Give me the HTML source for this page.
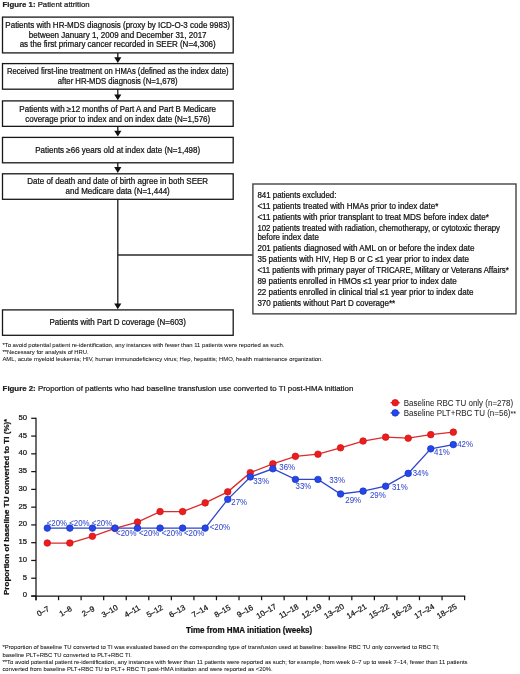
<!DOCTYPE html>
<html><head><meta charset="utf-8"><style>
html,body{margin:0;padding:0;background:#fff;}
body{width:520px;height:674px;overflow:hidden;}
svg{display:block;filter:blur(0.3px);font-family:"Liberation Sans",sans-serif;}
text{stroke-width:0.22;}
.ns{stroke-width:0.05;}
</style></head><body>
<svg width="520" height="674" viewBox="0 0 520 674" font-family="Liberation Sans">
<text x="2.6" y="7.2" font-size="7.8" fill="#1a1a1a" stroke="#1a1a1a" transform="matrix(1 0 0 1.03 0 -0.216)"><tspan font-weight="bold">Figure 1:</tspan> Patient attrition</text>
<rect x="2.5" y="17.1" width="230.70" height="35.80" fill="none" stroke="#181818" stroke-width="1.3"/>
<text x="117.7" y="28" font-size="8" text-anchor="middle" fill="#111" stroke="#111" transform="matrix(1 0 0 1.03 0 -0.840)">Patients with HR-MDS diagnosis (proxy by ICD-O-3 code 9983)</text>
<text x="117.7" y="38" font-size="8" text-anchor="middle" fill="#111" stroke="#111" transform="matrix(1 0 0 1.03 0 -1.140)">between January 1, 2009 and December 31, 2017</text>
<text x="117.7" y="47" font-size="8" text-anchor="middle" fill="#111" stroke="#111" transform="matrix(1 0 0 1.03 0 -1.410)">as the first primary cancer recorded in SEER (N=4,306)</text>
<rect x="2.5" y="63.6" width="230.70" height="25.60" fill="none" stroke="#181818" stroke-width="1.3"/>
<text x="117.7" y="74" font-size="8" text-anchor="middle" fill="#111" stroke="#111" transform="matrix(1 0 0 1.03 0 -2.220)" textLength="221.5" lengthAdjust="spacingAndGlyphs">Received first-line treatment on HMAs (defined as the index date)</text>
<text x="117.7" y="84" font-size="8" text-anchor="middle" fill="#111" stroke="#111" transform="matrix(1 0 0 1.03 0 -2.520)" textLength="119.8" lengthAdjust="spacingAndGlyphs">after HR-MDS diagnosis (N=1,678)</text>
<rect x="2.5" y="100.9" width="230.70" height="25.45" fill="none" stroke="#181818" stroke-width="1.3"/>
<text x="117.7" y="112" font-size="8" text-anchor="middle" fill="#111" stroke="#111" transform="matrix(1 0 0 1.03 0 -3.360)">Patients with ≥12 months of Part A and Part B Medicare</text>
<text x="117.7" y="122" font-size="8" text-anchor="middle" fill="#111" stroke="#111" transform="matrix(1 0 0 1.03 0 -3.660)">coverage prior to index and on index date (N=1,576)</text>
<rect x="2.5" y="137.4" width="230.70" height="25.40" fill="none" stroke="#181818" stroke-width="1.3"/>
<text x="117.7" y="153" font-size="8" text-anchor="middle" fill="#111" stroke="#111" transform="matrix(1 0 0 1.03 0 -4.590)">Patients ≥66 years old at index date (N=1,498)</text>
<rect x="2.5" y="173.8" width="230.70" height="25.50" fill="none" stroke="#181818" stroke-width="1.3"/>
<text x="117.7" y="184" font-size="8" text-anchor="middle" fill="#111" stroke="#111" transform="matrix(1 0 0 1.03 0 -5.520)">Date of death and date of birth agree in both SEER</text>
<text x="117.7" y="194" font-size="8" text-anchor="middle" fill="#111" stroke="#111" transform="matrix(1 0 0 1.03 0 -5.820)">and Medicare data (N=1,444)</text>
<rect x="2.5" y="309.9" width="230.70" height="25.40" fill="none" stroke="#181818" stroke-width="1.3"/>
<text x="117.7" y="325" font-size="8" text-anchor="middle" fill="#111" stroke="#111" transform="matrix(1 0 0 1.03 0 -9.750)">Patients with Part D coverage (N=603)</text>
<line x1="117.8" y1="52.9" x2="117.8" y2="58.0" stroke="#181818" stroke-width="1.3"/>
<path d="M114.2,57.2 L121.39999999999999,57.2 L117.8,63.0 Z" fill="#111"/>
<line x1="117.8" y1="89.2" x2="117.8" y2="95.2" stroke="#181818" stroke-width="1.3"/>
<path d="M114.2,94.4 L121.39999999999999,94.4 L117.8,100.2 Z" fill="#111"/>
<line x1="117.8" y1="126.3" x2="117.8" y2="131.6" stroke="#181818" stroke-width="1.3"/>
<path d="M114.2,130.79999999999998 L121.39999999999999,130.79999999999998 L117.8,136.6 Z" fill="#111"/>
<line x1="117.8" y1="162.8" x2="117.8" y2="167.9" stroke="#181818" stroke-width="1.3"/>
<path d="M114.2,167.1 L121.39999999999999,167.1 L117.8,172.9 Z" fill="#111"/>
<line x1="117.8" y1="199.0" x2="117.8" y2="304.2" stroke="#181818" stroke-width="1.3"/>
<path d="M114.2,303.4 L121.39999999999999,303.4 L117.8,309.2 Z" fill="#111"/>
<line x1="117.8" y1="255.0" x2="253" y2="255.0" stroke="#2a2a2a" stroke-width="1.4"/>
<rect x="252.9" y="184.0" width="263.1" height="129.85" fill="none" stroke="#4a4a4a" stroke-width="1.45"/>
<text x="257.4" y="198" font-size="8" text-anchor="start" fill="#111" stroke="#111" transform="matrix(1 0 0 1.03 0 -5.940)" textLength="79.0" lengthAdjust="spacingAndGlyphs">841 patients excluded:</text>
<text x="257.4" y="209" font-size="8" text-anchor="start" fill="#111" stroke="#111" transform="matrix(1 0 0 1.03 0 -6.270)" textLength="180.9" lengthAdjust="spacingAndGlyphs">&lt;11 patients treated with HMAs prior to index date*</text>
<text x="257.4" y="220" font-size="8" text-anchor="start" fill="#111" stroke="#111" transform="matrix(1 0 0 1.03 0 -6.600)" textLength="231.6" lengthAdjust="spacingAndGlyphs">&lt;11 patients with prior transplant to treat MDS before index date*</text>
<text x="257.4" y="231" font-size="8" text-anchor="start" fill="#111" stroke="#111" transform="matrix(1 0 0 1.03 0 -6.930)" textLength="242.6" lengthAdjust="spacingAndGlyphs">102 patients treated with radiation, chemotherapy, or cytotoxic therapy</text>
<text x="257.4" y="240" font-size="8" text-anchor="start" fill="#111" stroke="#111" transform="matrix(1 0 0 1.03 0 -7.200)" textLength="61.5" lengthAdjust="spacingAndGlyphs">before index date</text>
<text x="257.4" y="251" font-size="8" text-anchor="start" fill="#111" stroke="#111" transform="matrix(1 0 0 1.03 0 -7.530)" textLength="217.0" lengthAdjust="spacingAndGlyphs">201 patients diagnosed with AML on or before the index date</text>
<text x="257.4" y="262" font-size="8" text-anchor="start" fill="#111" stroke="#111" transform="matrix(1 0 0 1.03 0 -7.860)" textLength="211.5" lengthAdjust="spacingAndGlyphs">35 patients with HIV, Hep B or C ≤1 year prior to index date</text>
<text x="257.4" y="273" font-size="8" text-anchor="start" fill="#111" stroke="#111" transform="matrix(1 0 0 1.03 0 -8.190)" textLength="251.3" lengthAdjust="spacingAndGlyphs">&lt;11 patients with primary payer of TRICARE, Military or Veterans Affairs*</text>
<text x="257.4" y="284" font-size="8" text-anchor="start" fill="#111" stroke="#111" transform="matrix(1 0 0 1.03 0 -8.520)" textLength="199.3" lengthAdjust="spacingAndGlyphs">89 patients enrolled in HMOs ≤1 year prior to index date</text>
<text x="257.4" y="295" font-size="8" text-anchor="start" fill="#111" stroke="#111" transform="matrix(1 0 0 1.03 0 -8.850)" textLength="216.1" lengthAdjust="spacingAndGlyphs">22 patients enrolled in clinical trial ≤1 year prior to index date</text>
<text x="257.4" y="306" font-size="8" text-anchor="start" fill="#111" stroke="#111" transform="matrix(1 0 0 1.03 0 -9.180)" textLength="137.8" lengthAdjust="spacingAndGlyphs">370 patients without Part D coverage**</text>
<text x="2.4" y="346.8" font-size="5.9" text-anchor="start" fill="#111" stroke="#111" class="ns" transform="matrix(1 0 0 1.01 0 -3.468)" textLength="282.1" lengthAdjust="spacingAndGlyphs">*To avoid potential patient re-identification, any instances with fewer than 11 patients were reported as such.</text>
<text x="2.4" y="353.7" font-size="5.9" text-anchor="start" fill="#111" stroke="#111" class="ns" transform="matrix(1 0 0 1.01 0 -3.537)" textLength="86.3" lengthAdjust="spacingAndGlyphs">**Necessary for analysis of HRU.</text>
<text x="2.4" y="360.6" font-size="5.9" text-anchor="start" fill="#111" stroke="#111" class="ns" transform="matrix(1 0 0 1.01 0 -3.606)" textLength="320.6" lengthAdjust="spacingAndGlyphs">AML, acute myeloid leukemia; HIV, human immunodeficiency virus; Hep, hepatitis; HMO, health maintenance organization.</text>
<text x="2.6" y="391" font-size="7.86" fill="#1a1a1a" stroke="#1a1a1a" transform="matrix(1 0 0 1.03 0 -11.730)"><tspan font-weight="bold">Figure 2:</tspan> Proportion of patients who had baseline transfusion use converted to TI post-HMA initiation</text>
<line x1="36.0" y1="417.7" x2="36.0" y2="600.2" stroke="#151515" stroke-width="1.25"/>
<line x1="31.2" y1="596.00" x2="36.0" y2="596.00" stroke="#151515" stroke-width="1.25"/>
<text x="27.0" y="597.5" font-size="7.7" text-anchor="end" fill="#111" stroke="#111" transform="matrix(1 0 0 1.03 0 -17.925)">0</text>
<line x1="31.2" y1="578.23" x2="36.0" y2="578.23" stroke="#151515" stroke-width="1.25"/>
<text x="27.0" y="579.73" font-size="7.7" text-anchor="end" fill="#111" stroke="#111" transform="matrix(1 0 0 1.03 0 -17.392)">5</text>
<line x1="31.2" y1="560.46" x2="36.0" y2="560.46" stroke="#151515" stroke-width="1.25"/>
<text x="27.0" y="561.96" font-size="7.7" text-anchor="end" fill="#111" stroke="#111" transform="matrix(1 0 0 1.03 0 -16.859)">10</text>
<line x1="31.2" y1="542.69" x2="36.0" y2="542.69" stroke="#151515" stroke-width="1.25"/>
<text x="27.0" y="544.19" font-size="7.7" text-anchor="end" fill="#111" stroke="#111" transform="matrix(1 0 0 1.03 0 -16.326)">15</text>
<line x1="31.2" y1="524.92" x2="36.0" y2="524.92" stroke="#151515" stroke-width="1.25"/>
<text x="27.0" y="526.42" font-size="7.7" text-anchor="end" fill="#111" stroke="#111" transform="matrix(1 0 0 1.03 0 -15.793)">20</text>
<line x1="31.2" y1="507.15" x2="36.0" y2="507.15" stroke="#151515" stroke-width="1.25"/>
<text x="27.0" y="508.65" font-size="7.7" text-anchor="end" fill="#111" stroke="#111" transform="matrix(1 0 0 1.03 0 -15.260)">25</text>
<line x1="31.2" y1="489.38" x2="36.0" y2="489.38" stroke="#151515" stroke-width="1.25"/>
<text x="27.0" y="490.88" font-size="7.7" text-anchor="end" fill="#111" stroke="#111" transform="matrix(1 0 0 1.03 0 -14.726)">30</text>
<line x1="31.2" y1="471.61" x2="36.0" y2="471.61" stroke="#151515" stroke-width="1.25"/>
<text x="27.0" y="473.11" font-size="7.7" text-anchor="end" fill="#111" stroke="#111" transform="matrix(1 0 0 1.03 0 -14.193)">35</text>
<line x1="31.2" y1="453.84" x2="36.0" y2="453.84" stroke="#151515" stroke-width="1.25"/>
<text x="27.0" y="455.34" font-size="7.7" text-anchor="end" fill="#111" stroke="#111" transform="matrix(1 0 0 1.03 0 -13.660)">40</text>
<line x1="31.2" y1="436.07" x2="36.0" y2="436.07" stroke="#151515" stroke-width="1.25"/>
<text x="27.0" y="437.57" font-size="7.7" text-anchor="end" fill="#111" stroke="#111" transform="matrix(1 0 0 1.03 0 -13.127)">45</text>
<line x1="31.2" y1="418.30" x2="36.0" y2="418.30" stroke="#151515" stroke-width="1.25"/>
<text x="27.0" y="419.8" font-size="7.7" text-anchor="end" fill="#111" stroke="#111" transform="matrix(1 0 0 1.03 0 -12.594)">50</text>
<line x1="31.2" y1="596.0" x2="465.20000000000005" y2="596.0" stroke="#151515" stroke-width="1.25"/>
<line x1="36.00" y1="596.0" x2="36.00" y2="600.2" stroke="#151515" stroke-width="1.25"/>
<line x1="58.56" y1="596.0" x2="58.56" y2="600.2" stroke="#151515" stroke-width="1.25"/>
<line x1="81.12" y1="596.0" x2="81.12" y2="600.2" stroke="#151515" stroke-width="1.25"/>
<line x1="103.67" y1="596.0" x2="103.67" y2="600.2" stroke="#151515" stroke-width="1.25"/>
<line x1="126.23" y1="596.0" x2="126.23" y2="600.2" stroke="#151515" stroke-width="1.25"/>
<line x1="148.79" y1="596.0" x2="148.79" y2="600.2" stroke="#151515" stroke-width="1.25"/>
<line x1="171.35" y1="596.0" x2="171.35" y2="600.2" stroke="#151515" stroke-width="1.25"/>
<line x1="193.91" y1="596.0" x2="193.91" y2="600.2" stroke="#151515" stroke-width="1.25"/>
<line x1="216.46" y1="596.0" x2="216.46" y2="600.2" stroke="#151515" stroke-width="1.25"/>
<line x1="239.02" y1="596.0" x2="239.02" y2="600.2" stroke="#151515" stroke-width="1.25"/>
<line x1="261.58" y1="596.0" x2="261.58" y2="600.2" stroke="#151515" stroke-width="1.25"/>
<line x1="284.14" y1="596.0" x2="284.14" y2="600.2" stroke="#151515" stroke-width="1.25"/>
<line x1="306.69" y1="596.0" x2="306.69" y2="600.2" stroke="#151515" stroke-width="1.25"/>
<line x1="329.25" y1="596.0" x2="329.25" y2="600.2" stroke="#151515" stroke-width="1.25"/>
<line x1="351.81" y1="596.0" x2="351.81" y2="600.2" stroke="#151515" stroke-width="1.25"/>
<line x1="374.37" y1="596.0" x2="374.37" y2="600.2" stroke="#151515" stroke-width="1.25"/>
<line x1="396.93" y1="596.0" x2="396.93" y2="600.2" stroke="#151515" stroke-width="1.25"/>
<line x1="419.48" y1="596.0" x2="419.48" y2="600.2" stroke="#151515" stroke-width="1.25"/>
<line x1="442.04" y1="596.0" x2="442.04" y2="600.2" stroke="#151515" stroke-width="1.25"/>
<line x1="464.60" y1="596.0" x2="464.60" y2="600.2" stroke="#151515" stroke-width="1.25"/>
<text x="0" y="2.81" font-size="7.8" text-anchor="middle" fill="#111" stroke="#111" transform="translate(42.98 611.1) rotate(-30)">0–7</text>
<text x="0" y="2.81" font-size="7.8" text-anchor="middle" fill="#111" stroke="#111" transform="translate(65.54 611.1) rotate(-30)">1–8</text>
<text x="0" y="2.81" font-size="7.8" text-anchor="middle" fill="#111" stroke="#111" transform="translate(88.09 611.1) rotate(-30)">2–9</text>
<text x="0" y="2.81" font-size="7.8" text-anchor="middle" fill="#111" stroke="#111" transform="translate(109.5 611.1) rotate(-30)">3–10</text>
<text x="0" y="2.81" font-size="7.8" text-anchor="middle" fill="#111" stroke="#111" transform="translate(132.06 611.1) rotate(-30)">4–11</text>
<text x="0" y="2.81" font-size="7.8" text-anchor="middle" fill="#111" stroke="#111" transform="translate(154.62 611.1) rotate(-30)">5–12</text>
<text x="0" y="2.81" font-size="7.8" text-anchor="middle" fill="#111" stroke="#111" transform="translate(177.18 611.1) rotate(-30)">6–13</text>
<text x="0" y="2.81" font-size="7.8" text-anchor="middle" fill="#111" stroke="#111" transform="translate(199.73 611.1) rotate(-30)">7–14</text>
<text x="0" y="2.81" font-size="7.8" text-anchor="middle" fill="#111" stroke="#111" transform="translate(222.29 611.1) rotate(-30)">8–15</text>
<text x="0" y="2.81" font-size="7.8" text-anchor="middle" fill="#111" stroke="#111" transform="translate(244.85 611.1) rotate(-30)">9–16</text>
<text x="0" y="2.81" font-size="7.8" text-anchor="middle" fill="#111" stroke="#111" transform="translate(266.26 611.1) rotate(-30)">10–17</text>
<text x="0" y="2.81" font-size="7.8" text-anchor="middle" fill="#111" stroke="#111" transform="translate(288.82 611.1) rotate(-30)">11–18</text>
<text x="0" y="2.81" font-size="7.8" text-anchor="middle" fill="#111" stroke="#111" transform="translate(311.37 611.1) rotate(-30)">12–19</text>
<text x="0" y="2.81" font-size="7.8" text-anchor="middle" fill="#111" stroke="#111" transform="translate(333.93 611.1) rotate(-30)">13–20</text>
<text x="0" y="2.81" font-size="7.8" text-anchor="middle" fill="#111" stroke="#111" transform="translate(356.49 611.1) rotate(-30)">14–21</text>
<text x="0" y="2.81" font-size="7.8" text-anchor="middle" fill="#111" stroke="#111" transform="translate(379.05 611.1) rotate(-30)">15–22</text>
<text x="0" y="2.81" font-size="7.8" text-anchor="middle" fill="#111" stroke="#111" transform="translate(401.61 611.1) rotate(-30)">16–23</text>
<text x="0" y="2.81" font-size="7.8" text-anchor="middle" fill="#111" stroke="#111" transform="translate(424.16 611.1) rotate(-30)">17–24</text>
<text x="0" y="2.81" font-size="7.8" text-anchor="middle" fill="#111" stroke="#111" transform="translate(446.72 611.1) rotate(-30)">18–25</text>
<text x="249.1" y="632.8" font-size="8.05" text-anchor="middle" font-weight="bold" fill="#111" stroke="#111" transform="matrix(1 0 0 1.03 0 -18.984)">Time from HMA initiation (weeks)</text>
<text x="9.3" y="595" font-size="8" font-weight="bold" fill="#111" stroke="#111" textLength="176" lengthAdjust="spacing" transform="rotate(-90 9.3 595)">Proportion of baseline TU converted to TI (%)<tspan font-size="7">*</tspan></text>
<polyline points="47.28,543.05 69.84,543.05 92.39,536.29 114.95,528.47 137.51,522.08 160.07,511.59 182.63,511.59 205.18,502.89 227.74,491.87 250.30,472.68 272.86,463.79 295.42,456.33 317.97,454.20 340.53,447.80 363.09,441.05 385.65,437.14 408.21,438.20 430.76,434.65 453.32,432.16" fill="none" stroke="#dd2a2a" stroke-width="1.3"/>
<circle cx="47.28" cy="543.05" r="3.3" fill="#ee1c1c" stroke="#c8161a" stroke-width="0.7"/>
<circle cx="69.84" cy="543.05" r="3.3" fill="#ee1c1c" stroke="#c8161a" stroke-width="0.7"/>
<circle cx="92.39" cy="536.29" r="3.3" fill="#ee1c1c" stroke="#c8161a" stroke-width="0.7"/>
<circle cx="114.95" cy="528.47" r="3.3" fill="#ee1c1c" stroke="#c8161a" stroke-width="0.7"/>
<circle cx="137.51" cy="522.08" r="3.3" fill="#ee1c1c" stroke="#c8161a" stroke-width="0.7"/>
<circle cx="160.07" cy="511.59" r="3.3" fill="#ee1c1c" stroke="#c8161a" stroke-width="0.7"/>
<circle cx="182.63" cy="511.59" r="3.3" fill="#ee1c1c" stroke="#c8161a" stroke-width="0.7"/>
<circle cx="205.18" cy="502.89" r="3.3" fill="#ee1c1c" stroke="#c8161a" stroke-width="0.7"/>
<circle cx="227.74" cy="491.87" r="3.3" fill="#ee1c1c" stroke="#c8161a" stroke-width="0.7"/>
<circle cx="250.30" cy="472.68" r="3.3" fill="#ee1c1c" stroke="#c8161a" stroke-width="0.7"/>
<circle cx="272.86" cy="463.79" r="3.3" fill="#ee1c1c" stroke="#c8161a" stroke-width="0.7"/>
<circle cx="295.42" cy="456.33" r="3.3" fill="#ee1c1c" stroke="#c8161a" stroke-width="0.7"/>
<circle cx="317.97" cy="454.20" r="3.3" fill="#ee1c1c" stroke="#c8161a" stroke-width="0.7"/>
<circle cx="340.53" cy="447.80" r="3.3" fill="#ee1c1c" stroke="#c8161a" stroke-width="0.7"/>
<circle cx="363.09" cy="441.05" r="3.3" fill="#ee1c1c" stroke="#c8161a" stroke-width="0.7"/>
<circle cx="385.65" cy="437.14" r="3.3" fill="#ee1c1c" stroke="#c8161a" stroke-width="0.7"/>
<circle cx="408.21" cy="438.20" r="3.3" fill="#ee1c1c" stroke="#c8161a" stroke-width="0.7"/>
<circle cx="430.76" cy="434.65" r="3.3" fill="#ee1c1c" stroke="#c8161a" stroke-width="0.7"/>
<circle cx="453.32" cy="432.16" r="3.3" fill="#ee1c1c" stroke="#c8161a" stroke-width="0.7"/>
<polyline points="47.28,528.12 69.84,528.12 92.39,528.12 114.95,528.12 137.51,528.12 160.07,528.12 182.63,528.12 205.18,528.12 227.74,499.33 250.30,476.94 272.86,468.77 295.42,479.43 317.97,479.43 340.53,494.00 363.09,491.16 385.65,486.18 408.21,473.39 430.76,448.86 453.32,444.60" fill="none" stroke="#2f45cc" stroke-width="1.3"/>
<circle cx="47.28" cy="528.12" r="3.3" fill="#2346ee" stroke="#1d35b8" stroke-width="0.7"/>
<circle cx="69.84" cy="528.12" r="3.3" fill="#2346ee" stroke="#1d35b8" stroke-width="0.7"/>
<circle cx="92.39" cy="528.12" r="3.3" fill="#2346ee" stroke="#1d35b8" stroke-width="0.7"/>
<circle cx="114.95" cy="528.12" r="3.3" fill="#2346ee" stroke="#1d35b8" stroke-width="0.7"/>
<circle cx="137.51" cy="528.12" r="3.3" fill="#2346ee" stroke="#1d35b8" stroke-width="0.7"/>
<circle cx="160.07" cy="528.12" r="3.3" fill="#2346ee" stroke="#1d35b8" stroke-width="0.7"/>
<circle cx="182.63" cy="528.12" r="3.3" fill="#2346ee" stroke="#1d35b8" stroke-width="0.7"/>
<circle cx="205.18" cy="528.12" r="3.3" fill="#2346ee" stroke="#1d35b8" stroke-width="0.7"/>
<circle cx="227.74" cy="499.33" r="3.3" fill="#2346ee" stroke="#1d35b8" stroke-width="0.7"/>
<circle cx="250.30" cy="476.94" r="3.3" fill="#2346ee" stroke="#1d35b8" stroke-width="0.7"/>
<circle cx="272.86" cy="468.77" r="3.3" fill="#2346ee" stroke="#1d35b8" stroke-width="0.7"/>
<circle cx="295.42" cy="479.43" r="3.3" fill="#2346ee" stroke="#1d35b8" stroke-width="0.7"/>
<circle cx="317.97" cy="479.43" r="3.3" fill="#2346ee" stroke="#1d35b8" stroke-width="0.7"/>
<circle cx="340.53" cy="494.00" r="3.3" fill="#2346ee" stroke="#1d35b8" stroke-width="0.7"/>
<circle cx="363.09" cy="491.16" r="3.3" fill="#2346ee" stroke="#1d35b8" stroke-width="0.7"/>
<circle cx="385.65" cy="486.18" r="3.3" fill="#2346ee" stroke="#1d35b8" stroke-width="0.7"/>
<circle cx="408.21" cy="473.39" r="3.3" fill="#2346ee" stroke="#1d35b8" stroke-width="0.7"/>
<circle cx="430.76" cy="448.86" r="3.3" fill="#2346ee" stroke="#1d35b8" stroke-width="0.7"/>
<circle cx="453.32" cy="444.60" r="3.3" fill="#2346ee" stroke="#1d35b8" stroke-width="0.7"/>
<text x="46.68" y="525.52" font-size="7.9" text-anchor="start" fill="#3348cc" stroke="#3348cc" class="ns" transform="matrix(1 0 0 1.03 0 -15.766)">&lt;20%</text>
<text x="69.24" y="525.52" font-size="7.9" text-anchor="start" fill="#3348cc" stroke="#3348cc" class="ns" transform="matrix(1 0 0 1.03 0 -15.766)">&lt;20%</text>
<text x="91.79" y="525.52" font-size="7.9" text-anchor="start" fill="#3348cc" stroke="#3348cc" class="ns" transform="matrix(1 0 0 1.03 0 -15.766)">&lt;20%</text>
<text x="116.05" y="536.12" font-size="7.9" text-anchor="start" fill="#3348cc" stroke="#3348cc" class="ns" transform="matrix(1 0 0 1.03 0 -16.084)">&lt;20%</text>
<text x="138.91" y="535.72" font-size="7.9" text-anchor="start" fill="#3348cc" stroke="#3348cc" class="ns" transform="matrix(1 0 0 1.03 0 -16.072)">&lt;20%</text>
<text x="161.77" y="535.82" font-size="7.9" text-anchor="start" fill="#3348cc" stroke="#3348cc" class="ns" transform="matrix(1 0 0 1.03 0 -16.075)">&lt;20%</text>
<text x="183.93" y="535.82" font-size="7.9" text-anchor="start" fill="#3348cc" stroke="#3348cc" class="ns" transform="matrix(1 0 0 1.03 0 -16.075)">&lt;20%</text>
<text x="209.68" y="530.42" font-size="7.9" text-anchor="start" fill="#3348cc" stroke="#3348cc" class="ns" transform="matrix(1 0 0 1.03 0 -15.913)">&lt;20%</text>
<text x="231.34" y="505.43" font-size="7.9" text-anchor="start" fill="#3348cc" stroke="#3348cc" class="ns" transform="matrix(1 0 0 1.03 0 -15.163)">27%</text>
<text x="253.2" y="483.64" font-size="7.9" text-anchor="start" fill="#3348cc" stroke="#3348cc" class="ns" transform="matrix(1 0 0 1.03 0 -14.509)">33%</text>
<text x="279.26" y="469.97" font-size="7.9" text-anchor="start" fill="#3348cc" stroke="#3348cc" class="ns" transform="matrix(1 0 0 1.03 0 -14.099)">36%</text>
<text x="295.52" y="488.83" font-size="7.9" text-anchor="start" fill="#3348cc" stroke="#3348cc" class="ns" transform="matrix(1 0 0 1.03 0 -14.665)">33%</text>
<text x="329.17" y="483.43" font-size="7.9" text-anchor="start" fill="#3348cc" stroke="#3348cc" class="ns" transform="matrix(1 0 0 1.03 0 -14.503)">33%</text>
<text x="345.33" y="502.6" font-size="7.9" text-anchor="start" fill="#3348cc" stroke="#3348cc" class="ns" transform="matrix(1 0 0 1.03 0 -15.078)">29%</text>
<text x="369.99" y="498.36" font-size="7.9" text-anchor="start" fill="#3348cc" stroke="#3348cc" class="ns" transform="matrix(1 0 0 1.03 0 -14.951)">29%</text>
<text x="391.95" y="490.48" font-size="7.9" text-anchor="start" fill="#3348cc" stroke="#3348cc" class="ns" transform="matrix(1 0 0 1.03 0 -14.714)">31%</text>
<text x="412.71" y="476.29" font-size="7.9" text-anchor="start" fill="#3348cc" stroke="#3348cc" class="ns" transform="matrix(1 0 0 1.03 0 -14.289)">34%</text>
<text x="434.06" y="455.26" font-size="7.9" text-anchor="start" fill="#3348cc" stroke="#3348cc" class="ns" transform="matrix(1 0 0 1.03 0 -13.658)">41%</text>
<text x="457.22" y="446.6" font-size="7.9" text-anchor="start" fill="#3348cc" stroke="#3348cc" class="ns" transform="matrix(1 0 0 1.03 0 -13.398)">42%</text>
<line x1="390.6" y1="402.7" x2="399.8" y2="402.7" stroke="#dd2a2a" stroke-width="1.3"/>
<line x1="390.6" y1="412.9" x2="399.8" y2="412.9" stroke="#2f45cc" stroke-width="1.3"/>
<circle cx="395.2" cy="402.7" r="3.3" fill="#ee1c1c" stroke="#c8161a" stroke-width="0.7"/>
<circle cx="395.2" cy="412.9" r="3.3" fill="#2346ee" stroke="#1d35b8" stroke-width="0.7"/>
<text x="403.8" y="406" font-size="8" text-anchor="start" fill="#2a2a2a" stroke="#2a2a2a" class="ns" transform="matrix(1 0 0 1.03 0 -12.180)">Baseline RBC TU only (n=278)</text>
<text x="403.8" y="416" font-size="8" text-anchor="start" fill="#2a2a2a" stroke="#2a2a2a" class="ns" transform="matrix(1 0 0 1.03 0 -12.480)">Baseline PLT+RBC TU (n=56)<tspan font-size="7">**</tspan></text>
<text x="2.4" y="649.5" font-size="5.9" text-anchor="start" fill="#111" stroke="#111" class="ns" transform="matrix(1 0 0 1.01 0 -6.495)" textLength="437.1" lengthAdjust="spacingAndGlyphs">*Proportion of baseline TU converted to TI was evaluated based on the corresponding type of transfusion used at baseline: baseline RBC TU only converted to RBC TI;</text>
<text x="2.4" y="656.8" font-size="5.9" text-anchor="start" fill="#111" stroke="#111" class="ns" transform="matrix(1 0 0 1.01 0 -6.568)" textLength="129.4" lengthAdjust="spacingAndGlyphs">baseline PLT+RBC TU converted to PLT+RBC TI.</text>
<text x="2.4" y="664.2" font-size="5.9" text-anchor="start" fill="#111" stroke="#111" class="ns" transform="matrix(1 0 0 1.01 0 -6.642)" textLength="465.2" lengthAdjust="spacingAndGlyphs">**To avoid potential patient re-identification, any instances with fewer than 11 patients were reported as such; for example, from week 0–7 up to week 7–14, fewer than 11 patients</text>
<text x="2.4" y="671.4" font-size="5.9" text-anchor="start" fill="#111" stroke="#111" class="ns" transform="matrix(1 0 0 1.01 0 -6.714)" textLength="270.3" lengthAdjust="spacingAndGlyphs">converted from baseline PLT+RBC TU to PLT+ RBC TI post-HMA initiation and were reported as &lt;20%.</text>
</svg>
</body></html>
